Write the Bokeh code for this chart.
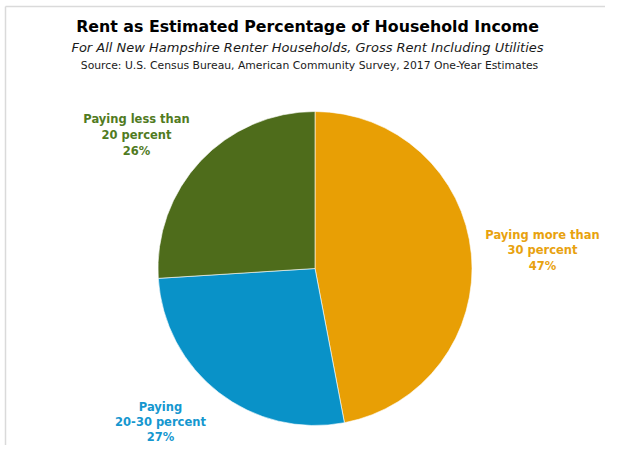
import numpy as np
from bokeh.plotting import figure
from bokeh.models import Range1d, ColumnDataSource
from bokeh.embed import file_html
from bokeh.resources import INLINE
from bokeh.core.properties import value

# ---- data ----
categories = ["Paying more than 30 percent", "Paying 20-30 percent", "Paying less than 20 percent"]
label_names = [["Paying more than", "30 percent"], ["Paying", "20-30 percent"], ["Paying less than", "20 percent"]]
shares = [47, 27, 26]

title = "Rent as Estimated Percentage of Household Income"
subtitle = "For All New Hampshire Renter Households, Gross Rent Including Utilities"
source_note = "Source: U.S. Census Bureau, American Community Survey, 2017 One-Year Estimates"

# ---- styles / layout ----
slice_colors = ["#E89F05", "#0992C8", "#4E6C1B"]
label_colors = ["#E8A20F", "#1597CF", "#517B1F"]
label_anchor = [(542, 234), (160, 406), (136, 118)]  # image px of first line
label_step = [15.7, 15.0, 16.0]
W, H = 605, 445
IMG_H = 461
cx, cy, R = 314.5, 268, 157
FONT = "DejaVu Sans"


def Y(iy):
    return IMG_H - iy


p = figure(width=W, height=H, x_range=Range1d(0, W), y_range=Range1d(IMG_H - H, IMG_H),
           output_backend="svg", toolbar_location=None, min_border=0)
p.axis.visible = False
p.grid.visible = False
p.outline_line_color = None
p.background_fill_color = "white"
p.border_fill_color = "white"

# frame lines (top and left) like reference
p.segment(x0=[5, 5], y0=[Y(6), Y(6)], x1=[W, 5], y1=[Y(6), Y(461)], line_color="#DADADA", line_width=1.5)

# pie
vals = np.array(shares, dtype=float)
frac = vals / vals.sum()
cum_end = np.cumsum(frac) * 2 * np.pi
cum_start = cum_end - frac * 2 * np.pi
src = ColumnDataSource(dict(
    start=(np.pi / 2 - cum_end).tolist(),
    end=(np.pi / 2 - cum_start).tolist(),
    color=slice_colors,
    cat=categories,
))
p.wedge(x=cx, y=Y(cy), radius=R, start_angle="start", end_angle="end", fill_color="color",
        line_color="white", line_width=0.6, source=src)

# titles
p.text(x=[307], y=[Y(26)], text=[title], text_font=value(FONT), text_font_style="bold",
       text_font_size="15.8px", text_align="center", text_baseline="middle", text_color="#000000")
p.text(x=[307], y=[Y(47)], text=[subtitle], text_font=value(FONT), text_font_style="italic",
       text_font_size="13px", text_align="center", text_baseline="middle", text_color="#1a1a1a")
p.text(x=[309], y=[Y(65)], text=[source_note], text_font=value(FONT),
       text_font_size="10.8px", text_align="center", text_baseline="middle", text_color="#1a1a1a")

# slice labels
for names, share, col, (lx, ly), step in zip(label_names, shares, label_colors, label_anchor, label_step):
    lines = names + [f"{share}%"]
    xs = [lx] * len(lines)
    ys = [Y(ly + i * step) for i in range(len(lines))]
    p.text(x=xs, y=ys, text=lines, text_font=value(FONT), text_font_style="bold",
           text_font_size="11.5px", text_align="center", text_baseline="middle", text_color=col)

open("out.html", "w").write(file_html(p, INLINE))
